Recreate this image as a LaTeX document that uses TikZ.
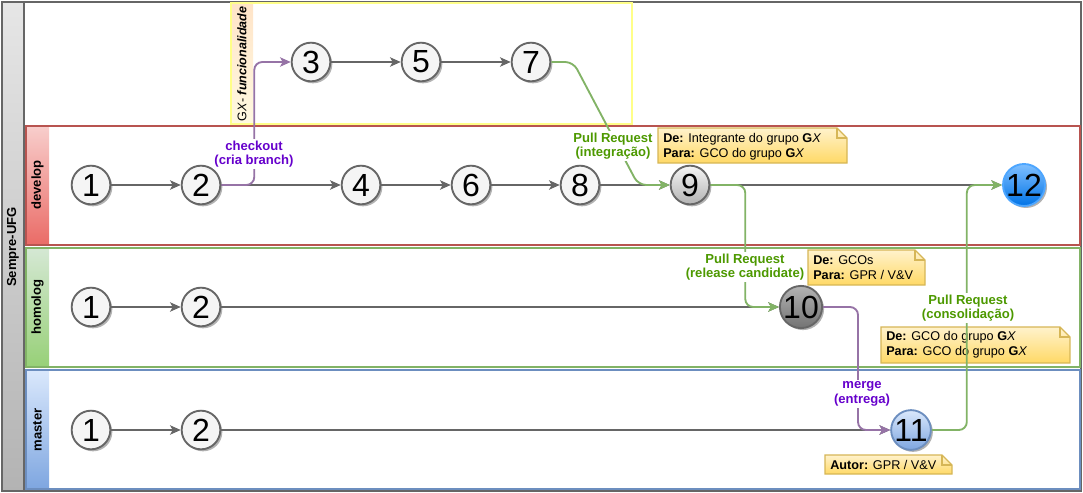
\documentclass[tikz,border=0pt]{standalone}
\usepackage{fontspec}
\setmainfont{Liberation Sans}
\usepackage{tikz}
\usepackage{xcolor}
\usetikzlibrary{shadows,arrows.meta}

\definecolor{edgegray}{HTML}{666666}
\definecolor{commitfill}{HTML}{F5F5F5}
\definecolor{prgreen}{HTML}{82B366}
\definecolor{prtext}{HTML}{4D9900}
\definecolor{mgpurple}{HTML}{9673A6}
\definecolor{mgtext}{HTML}{6600CC}
\definecolor{devline}{HTML}{B85450}
\definecolor{devA}{HTML}{F8CECC}
\definecolor{devB}{HTML}{EA6B66}
\definecolor{homline}{HTML}{82B366}
\definecolor{homA}{HTML}{D5E8D4}
\definecolor{homB}{HTML}{97D077}
\definecolor{masline}{HTML}{6C8EBF}
\definecolor{masA}{HTML}{DAE8FC}
\definecolor{masB}{HTML}{7EA6E0}
\definecolor{noteA}{HTML}{FFF2CC}
\definecolor{noteB}{HTML}{FFD966}
\definecolor{noteline}{HTML}{D6B656}
\definecolor{featline}{HTML}{FFFF88}
\definecolor{featA}{HTML}{FFE4C8}
\definecolor{featB}{HTML}{FFF9E0}
\definecolor{poolA}{HTML}{E6E6E6}
\definecolor{poolB}{HTML}{B3B3B3}
\definecolor{grayA}{HTML}{B3B3B3}
\definecolor{grayB}{HTML}{737373}
\definecolor{blueA}{HTML}{7FBFFF}
\definecolor{blueB}{HTML}{0073E6}
\definecolor{blueline}{HTML}{4DA6FF}

% note with folded corner: top-left x, y, bottom-right x, y
\newcommand{\notebox}[4]{%
  \path[top color=noteA,bottom color=noteB,draw=noteline,line width=0.9pt]
    (#1,#2) -- (#3-10,#2) -- (#3,#2+10) -- (#3,#4) -- (#1,#4) -- cycle;
  \draw[noteline,line width=0.9pt] (#3-10,#2) -- (#3-10,#2+10) -- (#3,#2+10);}

\begin{document}
\begin{tikzpicture}[x=0.75pt,y=-0.75pt]
	\tikzstyle{every node}+=[inner sep=0pt]
	\tikzstyle{commit}=[circle, draw=edgegray, line width=1.4pt, fill=commitfill,
		minimum size=29pt, font=\fontsize{24}{26}\selectfont,
		drop shadow={shadow xshift=1.5pt,shadow yshift=-1.5pt,opacity=0.3,fill=black}]
	\tikzstyle{flow}=[draw=edgegray, line width=1.4pt, -{Stealth[length=8pt,width=7pt,inset=2pt]}]
	\tikzstyle{pullreq}=[flow, draw=prgreen, rounded corners=6pt]
	\tikzstyle{mergeflow}=[flow, draw=mgpurple, rounded corners=6pt]
	\tikzstyle{lbl}=[align=center, fill=white, inner sep=1pt, font=\fontsize{9.8}{11}\selectfont\bfseries]
	\tikzstyle{notetext}=[anchor=west, align=left, font=\fontsize{9.5}{11.5}\selectfont]
	\tikzstyle{lanetext}=[rotate=90, font=\fontsize{9.8}{11}\selectfont\bfseries]

	\useasboundingbox (0,0) rectangle (1083,493);

	% pool
	\shade[top color=poolA,bottom color=poolB] (2,2) rectangle (24,491);
	\draw[edgegray,line width=1.6pt] (2,2) rectangle (1081,491);
	\draw[edgegray,line width=1.6pt] (24,2) -- (24,491);
	\node[lanetext] (pool) at (13,247) {Sempre-UFG};

	% feature box
	\shade[top color=featA,bottom color=featB] (231,3) rectangle (253,124);
	\draw[featline,line width=1.4pt] (231,3) rectangle (632,124);
	\node[rotate=90, font=\fontsize{9.4}{11}\selectfont] (feat) at (242,64)
		{G\textit{X}- \textbf{\textit{funcionalidade}}};

	% lanes
	\shade[top color=devA,bottom color=devB] (26,126) rectangle (49,245);
	\draw[devline,line width=1.4pt] (26,126) rectangle (1080,245);
	\node[lanetext] (develop) at (37.5,185) {develop};

	\shade[top color=homA,bottom color=homB] (26,248) rectangle (49,367);
	\draw[homline,line width=1.4pt] (26,248) rectangle (1080,367);
	\node[lanetext] (homolog) at (37.5,307) {homolog};

	\shade[top color=masA,bottom color=masB] (26,370) rectangle (49,489);
	\draw[masline,line width=1.4pt] (26,370) rectangle (1080,489);
	\node[lanetext] (master) at (37.5,430) {master};

	% notes
	\notebox{658}{128}{847}{163}
	\node[notetext] (note1a) at (663,139) {\textbf{De:} Integrante do grupo \textbf{G}\textit{X}};
	\node[notetext] (note1b) at (663,154) {\textbf{Para:} GCO do grupo \textbf{G}\textit{X}};
	\notebox{808}{250}{925}{285}
	\node[notetext] (note2a) at (813,260) {\textbf{De:} GCOs};
	\node[notetext] (note2b) at (813,275) {\textbf{Para:} GPR / V\&V};
	\notebox{881}{327}{1070}{363}
	\node[notetext] (note3a) at (886,337) {\textbf{De:} GCO do grupo \textbf{G}\textit{X}};
	\node[notetext] (note3b) at (886,352) {\textbf{Para:} GCO do grupo \textbf{G}\textit{X}};
	\notebox{825}{455}{952}{474}
	\node[notetext] (note4) at (830,465) {\textbf{Autor:} GPR / V\&V};

	% commits
	\node[commit] (c3) at (311,62) {3};
	\node[commit] (c5) at (421,62) {5};
	\node[commit] (c7) at (531,62) {7};

	\node[commit] (c1dev) at (91,185) {1};
	\node[commit] (c2dev) at (201,185) {2};
	\node[commit] (c4) at (361,185) {4};
	\node[commit] (c6) at (471,185) {6};
	\node[commit] (c8) at (580,185) {8};
	\node[commit, top color=commitfill, bottom color=poolB] (c9) at (690,185) {9};
	\node[commit, draw=blueline, top color=blueA, bottom color=blueB] (c12) at (1024,185) {12};

	\node[commit] (c1hom) at (91,307) {1};
	\node[commit] (c2hom) at (201,307) {2};
	\node[commit, top color=grayA, bottom color=grayB] (c10) at (801,307) {10};

	\node[commit] (c1mas) at (91,430) {1};
	\node[commit] (c2mas) at (201,430) {2};
	\node[commit, draw=masline, top color=masA, bottom color=masB] (c11) at (911,430) {11};

	% history
	\draw[flow] (c3) -- (c5);
	\draw[flow] (c5) -- (c7);
	\draw[flow] (c1dev) -- (c2dev);
	\draw[flow] (c2dev) -- (c4);
	\draw[flow] (c4) -- (c6);
	\draw[flow] (c6) -- (c8);
	\draw[flow] (c8) -- (c9);
	\draw[flow] (c9) -- (c12);
	\draw[flow] (c1hom) -- (c2hom);
	\draw[flow] (c2hom) -- (c10);
	\draw[flow] (c1mas) -- (c2mas);
	\draw[flow] (c2mas) -- (c11);

	% branch / pull requests / merge
	\draw[mergeflow] (c2dev.east) -- ++(33,0) |- (c3.west);
	\draw[pullreq] (c7.east) -- ++(22,0) -- ++(65,123) -- (c9.west);
	\draw[pullreq] (c9.east) -- ++(35,0) |- (c10.west);
	\draw[mergeflow] (c10.east) -- ++(35,0) |- (c11.west);
	\draw[pullreq] (c11.east) -- ++(35,0) |- (c12.west);

	\node[lbl, text=mgtext] (checkout) at (254,154) {checkout\\(cria branch)};
	\node[lbl, text=prtext] (integra) at (613,146) {Pull Request\\(integração)};
	\node[lbl, text=prtext] (release) at (745,267) {Pull Request\\(release candidate)};
	\node[lbl, text=mgtext] (entrega) at (862,394) {merge\\(entrega)};
	\node[lbl, text=prtext] (consolida) at (968,308) {Pull Request\\(consolidação)};
\end{tikzpicture}
\end{document}
